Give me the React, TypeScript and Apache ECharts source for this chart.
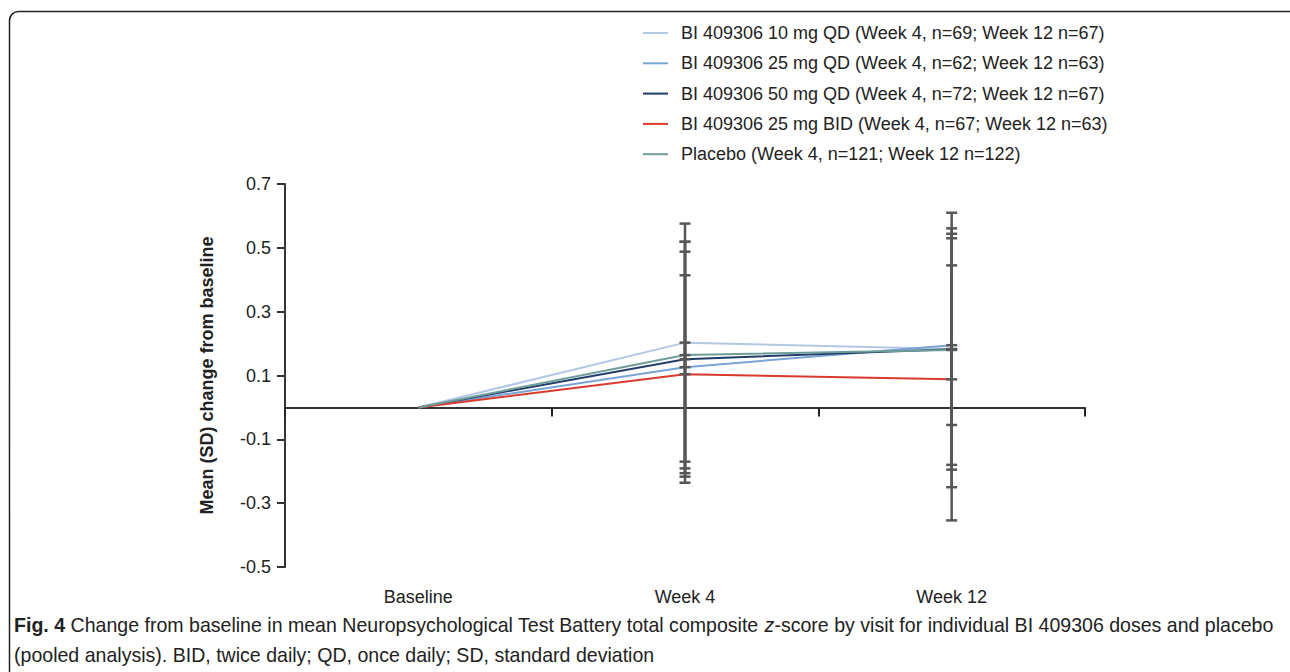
import React, { useEffect, useRef } from "react";
import * as echarts from "echarts";

const visits = ["Baseline", "Week 4", "Week 12"];
const seriesNames = [
  "BI 409306 10 mg QD (Week 4, n=69; Week 12 n=67)",
  "BI 409306 25 mg QD (Week 4, n=62; Week 12 n=63)",
  "BI 409306 50 mg QD (Week 4, n=72; Week 12 n=67)",
  "BI 409306 25 mg BID (Week 4, n=67; Week 12 n=63)",
  "Placebo (Week 4, n=121; Week 12 n=122)",
];
const colors = ["#b4c8e6", "#7aa3d6", "#233d6b", "#d83a2e", "#6f9e9a"];
const means10 = [0, 0.203, 0.183];
const means25 = [0, 0.126, 0.195];
const means50 = [0, 0.151, 0.182];
const meansBid = [0, 0.104, 0.088];
const meansPbo = [0, 0.164, 0.18];
const sd10 = [null, 0.373, 0.378];
const sd25 = [null, 0.362, 0.25];
const sd50 = [null, 0.368, 0.362];
const sdBid = [null, 0.31, 0.442];
const sdPbo = [null, 0.355, 0.43];
const yTicks = { min: -0.5, max: 0.7, interval: 0.2 };

const allMeans = [means10, means25, means50, meansBid, meansPbo];
const allSd = [sd10, sd25, sd50, sdBid, sdPbo];

const FONT = "'Liberation Sans', Arial, sans-serif";

export default function App() {
  const ref = useRef<HTMLDivElement>(null);
  useEffect(() => {
    if (!ref.current) return;
    const chart = echarts.init(ref.current, null, { renderer: "svg" });

    const errData: any[] = [];
    allMeans.forEach((m, s) => {
      m.forEach((v, i) => {
        const sd = allSd[s][i];
        if (sd != null) errData.push([i, v, sd]);
      });
    });

    const lineSeries = seriesNames.map((name, s) => ({
      name,
      type: "line",
      data: allMeans[s],
      symbol: "none",
      lineStyle: { color: colors[s], width: 2 },
      itemStyle: { color: colors[s] },
      z: 2,
    }));

    const errSeries = {
      type: "custom",
      name: "err",
      z: 5,
      data: errData,
      encode: { x: 0, y: 1 },
      renderItem: (params: any, api: any) => {
        const x = api.value(0);
        const m = api.value(1);
        const sd = api.value(2);
        const top = api.coord([x, m + sd]);
        const bot = api.coord([x, m - sd]);
        const mid = api.coord([x, m]);
        const hw = 5.5;
        const st = { stroke: "#575757", lineWidth: 2.5 };
        return {
          type: "group",
          children: [
            { type: "line", shape: { x1: top[0], y1: top[1], x2: bot[0], y2: bot[1] }, style: st },
            { type: "line", shape: { x1: top[0] - hw, y1: top[1], x2: top[0] + hw, y2: top[1] }, style: st },
            { type: "line", shape: { x1: bot[0] - hw, y1: bot[1], x2: bot[0] + hw, y2: bot[1] }, style: st },
            { type: "line", shape: { x1: mid[0] - hw, y1: mid[1], x2: mid[0] + hw, y2: mid[1] }, style: st },
          ],
        };
      },
    };

    const capFont = FONT;

    chart.setOption({
      animation: false,
      textStyle: { fontFamily: FONT },
      grid: { left: 285, right: 205, top: 184, bottom: 105 },
      legend: {
        orient: "vertical",
        left: 638,
        top: 19,
        icon: "rect",
        itemWidth: 25,
        itemHeight: 2,
        itemGap: 12.3,
        data: seriesNames,
        textStyle: { fontSize: 18, lineHeight: 18, color: "#222", fontFamily: FONT, padding: [0, 0, 0, 8] },
      },
      xAxis: [
        {
          type: "category",
          data: visits,
          boundaryGap: true,
          axisLine: { onZero: true, lineStyle: { color: "#333", width: 2 } },
          axisTick: { show: true, length: 9, lineStyle: { color: "#222", width: 2 } },
          axisLabel: { show: false },
        },
        {
          type: "category",
          data: visits,
          boundaryGap: true,
          position: "bottom",
          axisLine: { show: false, onZero: false },
          axisTick: { show: false },
          axisLabel: { show: true, fontSize: 18, color: "#222", margin: 21 },
        },
      ],
      yAxis: {
        type: "value",
        min: yTicks.min,
        max: yTicks.max,
        interval: yTicks.interval,
        splitLine: { show: false },
        axisLine: { show: true, lineStyle: { color: "#333", width: 2 } },
        axisTick: { show: true, length: 8, lineStyle: { color: "#333", width: 2 } },
        axisLabel: {
          fontSize: 18,
          color: "#222",
          margin: 14,
          formatter: (v: number) => (Math.round(v * 10) / 10).toFixed(1),
        },
        name: "Mean (SD) change from baseline",
        nameLocation: "middle",
        nameGap: 69,
        nameTextStyle: { fontSize: 18, fontWeight: "bold", color: "#222" },
      },
      series: [...lineSeries, errSeries],
      graphic: [
        {
          type: "rect",
          shape: { x: 9.5, y: 11.5, width: 1300, height: 700, r: 9 },
          style: { fill: "none", stroke: "#222", lineWidth: 1.5 },
          silent: true,
        },
        {
          type: "text",
          x: 14,
          y: 610,
          scaleX: 0.932,
          style: {
            text:
              "{b|Fig. 4}{n| Change from baseline in mean Neuropsychological Test Battery total composite }{i|z}{n|-score by visit for individual BI 409306 doses and placebo}\n{n|(pooled analysis). BID, twice daily; QD, once daily; SD, standard deviation}",
            fill: "#222",
            rich: {
              b: { fontFamily: capFont, fontWeight: "bold", fontSize: 21, lineHeight: 30, fill: "#222" },
              n: { fontFamily: capFont, fontSize: 21, lineHeight: 30, fill: "#222" },
              i: { fontFamily: capFont, fontStyle: "italic", fontSize: 21, lineHeight: 30, fill: "#222" },
            },
          },
        },
      ],
    });
    return () => chart.dispose();
  }, []);
  return (
    <div
      ref={ref}
      style={{ position: "fixed", left: 0, top: 0, width: 1290, height: 672, background: "#fff" }}
    />
  );
}
